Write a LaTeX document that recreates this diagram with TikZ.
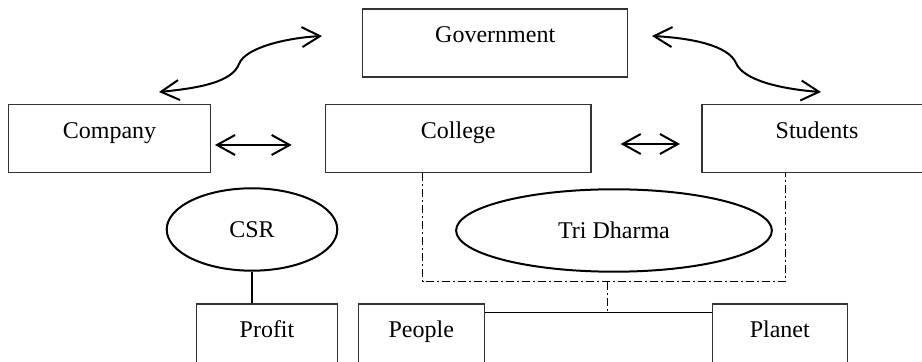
\documentclass[tikz,border=0pt]{standalone}
\usepackage{fontspec}
\setmainfont{Liberation Serif}
\usetikzlibrary{arrows.meta,shapes.geometric}

\begin{document}
\begin{tikzpicture}[x=0.5pt, y=-0.5pt,
  box/.style={draw=black!80, line width=0.6pt, minimum height=34pt,
    text height=6pt, text depth=6pt, font=\fontsize{12}{14}\selectfont},
  oval/.style={draw, ellipse, line width=1pt, inner sep=0pt,
    minimum height=41.2pt, font=\fontsize{12}{14}\selectfont},
  link/.style={line width=1pt, {Straight Barb[length=9pt,width=10pt]}-{Straight Barb[length=9pt,width=10pt]}},
  dashdot/.style={line width=0.5pt, dash pattern=on 4pt off 1.5pt on 1pt off 1.5pt}]
\useasboundingbox (0,0) rectangle (922,362);
\clip (0,0) rectangle (922,362);
\node[box, minimum width=132.5pt] (gov) at (495.2,43) {Government};
\node[box, minimum width=101.2pt] (company) at (109.5,138.5) {Company};
\node[box, minimum width=132.7pt] (college) at (458.3,138.5) {College};
\node[box, minimum width=115pt] (students) at (817,138.5) {Students};
\node[oval, minimum width=85.3pt] (csr) at (252,229.5) {CSR};
\node[oval, minimum width=157.9pt] (tri) at (614,230.5) {Tri Dharma};
\node[box, minimum width=70.3pt] (profit) at (267,338) {Profit};
\node[box, minimum width=63pt] (people) at (421.3,338) {People};
\node[box, minimum width=67.5pt] (planet) at (779.8,338) {Planet};
% arrow ends
\coordinate (a1) at (215,145);
\coordinate (a2) at (291.7,145);
\coordinate (a3) at (620.7,144);
\coordinate (a4) at (680,144);
\coordinate (c1) at (159,92);
\coordinate (c2) at (322,36);
\coordinate (c3) at (652,36);
\coordinate (c4) at (821,92);
\draw[link] (a1) -- (a2);
\draw[link] (a3) -- (a4);
\draw[link] (c1) .. controls (200,88) and (232,82) .. (239,64)
  .. controls (245,48) and (285,38) .. (c2);
\draw[link] (c3) .. controls (690,38) and (728,45) .. (736,63)
  .. controls (743,80) and (780,89) .. (c4);
% tri dharma bracket
\coordinate (br) at (785,281.7);
\coordinate (mid) at (607.7,281.7);
\draw[dashdot] ([xshift=-17.8pt]college.south) |- (br) -- (br |- students.south);
\coordinate (pp) at ([yshift=-4.65pt]people.north east);
\draw[line width=0.6pt] (pp) -- (pp -| planet.west);
\draw[dashdot] (mid) -- (mid |- pp);
\draw[line width=1pt] (csr.south) -- (csr.south |- profit.north);
\end{tikzpicture}
\end{document}
